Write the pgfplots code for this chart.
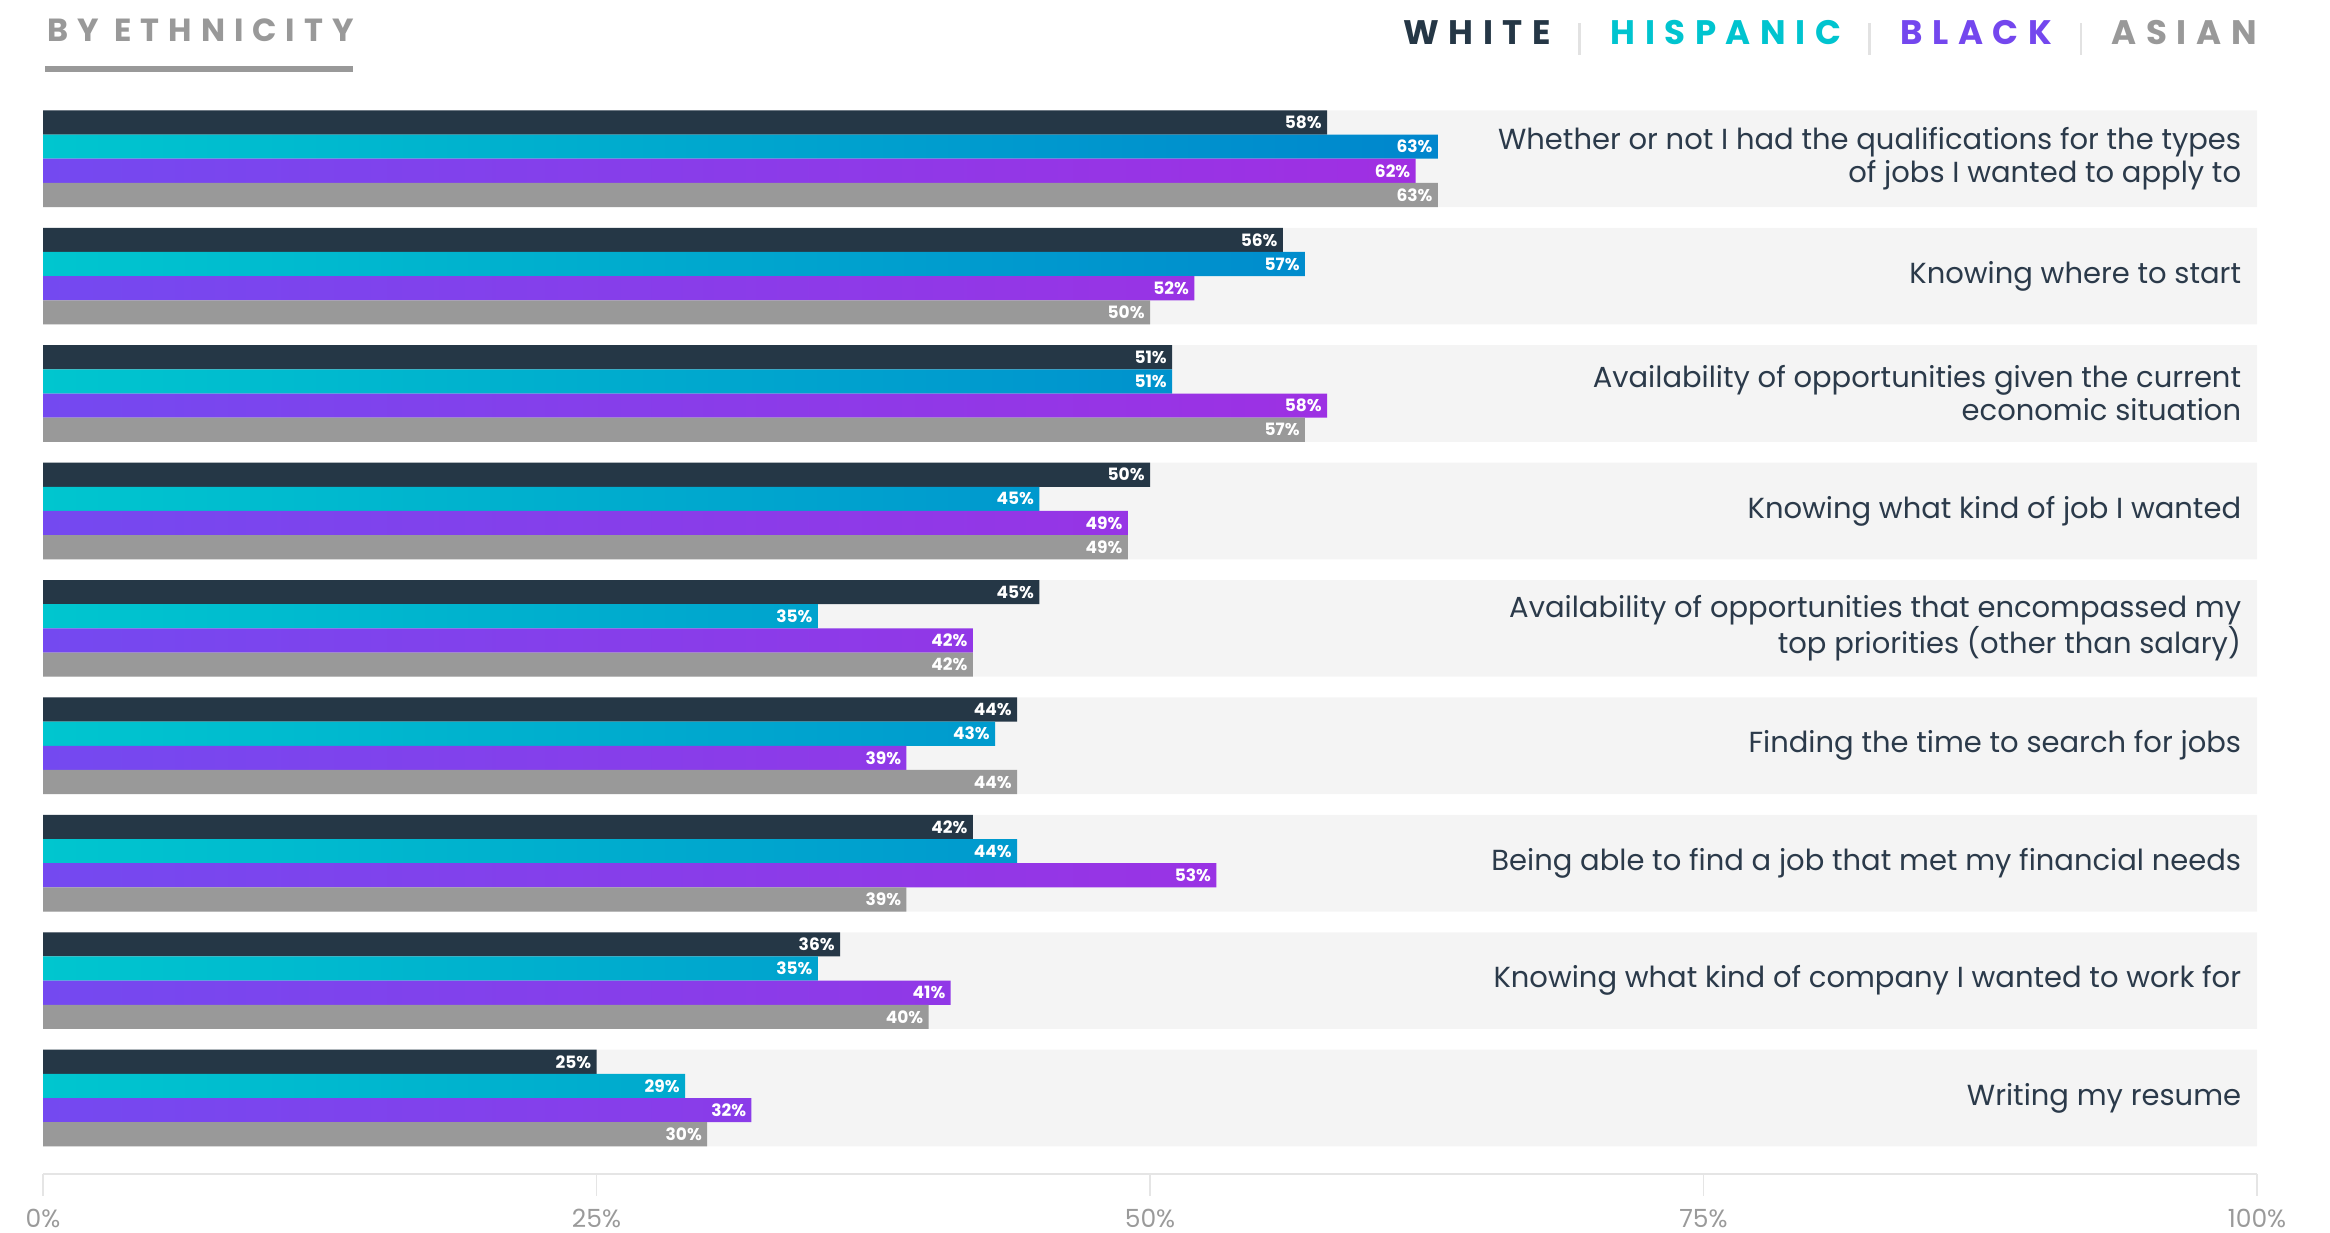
\documentclass[border=0pt]{standalone}
\usepackage{pgfplots}
\pgfplotsset{compat=1.18}
\usepackage{fontspec}
\setmainfont{Poppins}
\newfontfamily\headfont[LetterSpace=28]{Poppins}
\newfontfamily\legfont[LetterSpace=28]{Poppins}
\definecolor{navy}{HTML}{253746}
\definecolor{hisL}{HTML}{00C6CF}
\definecolor{hisR}{HTML}{0086CD}
\definecolor{blkL}{HTML}{7449F0}
\definecolor{blkR}{HTML}{A02FE2}
\definecolor{asian}{HTML}{999999}
\definecolor{bandgray}{HTML}{F4F4F4}
\definecolor{axisgray}{HTML}{E5E5E5}
\definecolor{tickgray}{HTML}{9A9A9A}
\definecolor{textdark}{HTML}{2B3A4A}
\definecolor{sepgray}{HTML}{E2E2E2}
\definecolor{legcyan}{HTML}{00C4CF}
\definecolor{legpurple}{HTML}{7447EE}
\begin{document}
\begin{tikzpicture}
\begin{axis}[
  at={(0,0)}, anchor=south west,
  scale only axis, width=1107pt, height=537pt,
  xmin=0, xmax=100, ymin=-0.647, ymax=8.5,
  axis y line=none, ytick=\empty,
  axis x line*=bottom,
  x axis line style={draw=axisgray, line width=1.2pt, -},
  xtick={0,25,50,75,100},
  xticklabels={0\%,25\%,50\%,75\%,100\%},
  tick align=outside,
  major tick length=11pt,
  xtick style={draw=axisgray, line width=0.8pt},
  xticklabel style={font=\fontsize{12.5}{14}\selectfont, text=tickgray, inner sep=0pt, yshift=-6.3pt},
  clip=false,
  xbar,
  bar width=0.2057,
  point meta=x,
  /pgf/number format/assume math mode=true,
  nodes near coords={\pgfmathprintnumber{\pgfplotspointmeta}\%},
  every node near coord/.append style={anchor=east, font=\bfseries\fontsize{8.5}{10}\selectfont, text=white, inner sep=0pt, xshift=-2.5pt},
]
\addplot[fill=bandgray, draw=none, bar width=0.823, bar shift=0, nodes near coords=\empty, forget plot]
  coordinates {(100,0) (100,1) (100,2) (100,3) (100,4) (100,5) (100,6) (100,7) (100,8)};
\addplot[fill=navy, draw=none, bar shift=0.3086]
  coordinates {(58,8) (56,7) (51,6) (50,5) (45,4) (44,3) (42,2) (36,1) (25,0)};
\addplot[left color=hisL, right color=hisR, draw=none, bar shift=0.1029]
  coordinates {(63,8) (57,7) (51,6) (45,5) (35,4) (43,3) (44,2) (35,1) (29,0)};
\addplot[left color=blkL, right color=blkR, draw=none, bar shift=-0.1029]
  coordinates {(62,8) (52,7) (58,6) (49,5) (42,4) (39,3) (53,2) (41,1) (32,0)};
\addplot[fill=asian, draw=none, bar shift=-0.3086]
  coordinates {(63,8) (50,7) (57,6) (49,5) (42,4) (44,3) (39,2) (40,1) (30,0)};
\begin{scope}[every node/.style={anchor=east, align=right, font=\fontsize{14.5}{16.5}\selectfont, text=textdark, inner sep=0pt}]
\node at (axis cs:99.3,8) {Whether or not I had the qualifications for the types\\of jobs I wanted to apply to};
\node at (axis cs:99.3,7) {Knowing where to start};
\node at (axis cs:99.3,6) {Availability of opportunities given the current\\economic situation};
\node at (axis cs:99.3,5) {Knowing what kind of job I wanted};
\node at (axis cs:99.3,4) {Availability of opportunities that encompassed my\\top priorities (other than salary)};
\node at (axis cs:99.3,3) {Finding the time to search for jobs};
\node at (axis cs:99.3,2) {Being able to find a job that met my financial needs};
\node at (axis cs:99.3,1) {Knowing what kind of company I wanted to work for};
\node at (axis cs:99.3,0) {Writing my resume};
\end{scope}
\end{axis}
\node[anchor=base west, inner sep=0pt, text=asian, font=\headfont\bfseries\fontsize{16}{18}\selectfont] at (2pt,566pt) {BY ETHNICITY};
\fill[asian] (0.8pt,551.2pt) rectangle (155pt,553.8pt);
\node[anchor=base east, inner sep=0pt, font=\legfont\bfseries\fontsize{17}{19}\selectfont] at (1107pt,564.5pt)
  {\textcolor{navy}{WHITE}\hspace{13.7pt}\textcolor{sepgray}{\rule[-5pt]{1.2pt}{16pt}}\hspace{15pt}\textcolor{legcyan}{HISPANIC}\hspace{13.7pt}\textcolor{sepgray}{\rule[-5pt]{1.2pt}{16pt}}\hspace{15pt}\textcolor{legpurple}{BLACK}\hspace{13.7pt}\textcolor{sepgray}{\rule[-5pt]{1.2pt}{16pt}}\hspace{15pt}\textcolor{asian}{ASIAN}};
\path (-21.5pt,-29pt) rectangle (1143.5pt,587pt);
\end{tikzpicture}
\end{document}
